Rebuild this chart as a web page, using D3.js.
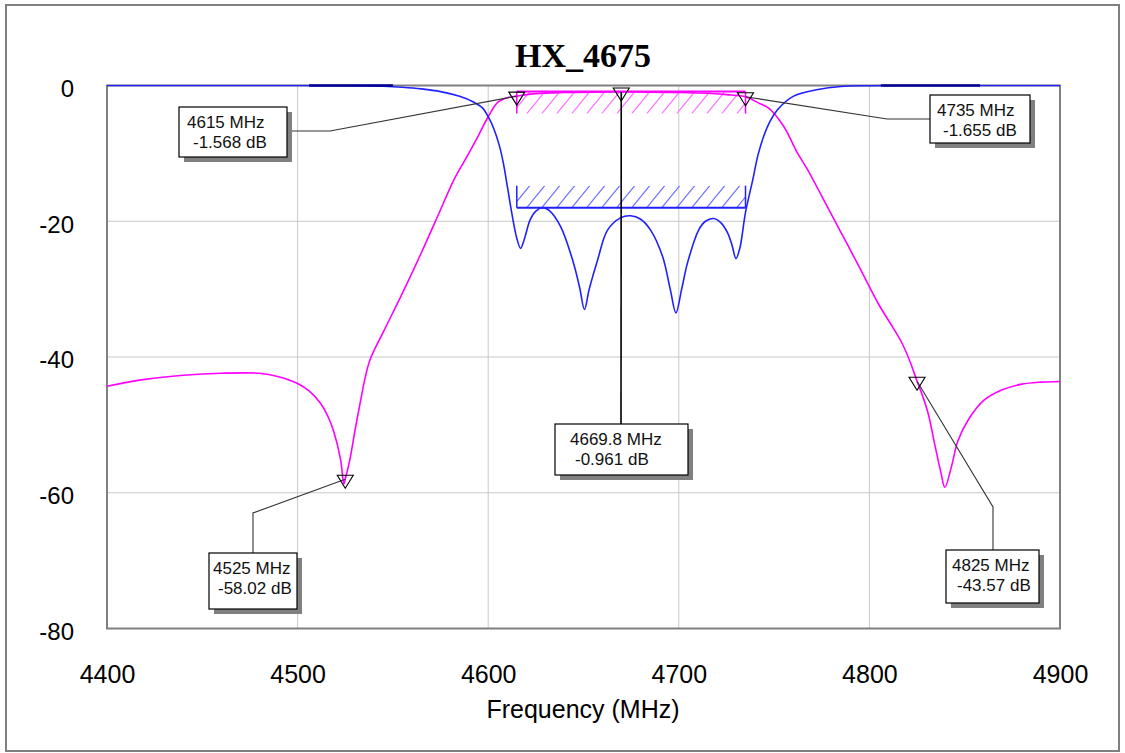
<!DOCTYPE html>
<html>
<head>
<meta charset="utf-8">
<script src="https://cdn.jsdelivr.net/npm/d3@7"></script>
<style>
  html, body { margin: 0; padding: 0; background: #fff; }
  svg { display: block; }
  text { font-family: "Liberation Sans", Arial, sans-serif; }
</style>
</head>
<body>
<div id="chart"></div>
<script>
// ---------------- data ----------------
const chartTitle = "HX_4675";
const xAxisTitle = "Frequency (MHz)";
const xTickValues = [4400, 4500, 4600, 4700, 4800, 4900];
const yTickValues = [0, -20, -40, -60, -80];

// S21 (insertion loss, magenta)
const s21Freq = [4400,4420,4440,4460,4480,4490,4500,4506,4512,4516,4519,4522.5,4524.3,4525,4527.5,4530,4533,4535.5,4538,4545,4555,4565,4575,4582,4589,4595,4600,4605,4610,4615,4625,4640,4655,4669.8,4685,4700,4715,4725,4735,4738,4742,4747,4755,4762,4768,4775,4785,4795,4805,4812,4817,4821.5,4825,4828,4831,4834,4837.5,4839.6,4843,4846.5,4852,4860,4870,4880,4890,4900];
const s21Db   = [-44.3,-43.3,-42.7,-42.4,-42.4,-42.9,-43.9,-45.0,-46.8,-48.8,-51.0,-55.0,-58.7,-58.02,-55.0,-51.0,-46.5,-43.0,-40.4,-36.3,-30.6,-24.6,-18.3,-13.9,-10.4,-7.3,-4.6,-2.5,-1.8,-1.568,-1.2,-1.03,-0.97,-0.961,-0.98,-1.03,-1.15,-1.35,-1.655,-2.0,-2.6,-3.3,-6.0,-9.8,-12.6,-16.3,-21.6,-26.9,-32.3,-35.5,-37.9,-40.8,-43.57,-45.8,-48.5,-52.5,-57.0,-59.2,-56.2,-52.3,-49.2,-46.4,-44.8,-44.0,-43.7,-43.6];

// S11 (return loss, blue)
const s11Freq = [4400,4500,4530,4545,4555,4565,4575,4585,4592,4597,4600,4603,4606,4608,4610,4612.5,4615,4617,4619,4622,4625,4628.5,4632,4638,4644.7,4648,4650.5,4653,4657.4,4662.6,4669.4,4674.7,4680,4685.2,4691.5,4695.5,4698.5,4701.5,4704.6,4710.4,4714,4718.3,4722,4725.6,4728,4730,4732,4735,4738.8,4741.5,4744.5,4748,4752,4760,4773,4785,4800,4815,4900];
const s11Db   = [0,0,-0.03,-0.1,-0.25,-0.5,-0.9,-1.6,-2.4,-3.3,-4.6,-6.4,-9.0,-11.5,-14.8,-19.0,-22.5,-24.0,-22.6,-19.8,-18.5,-18.0,-18.4,-20.8,-26.1,-29.8,-33.0,-30.0,-25.7,-21.3,-19.5,-19.2,-19.7,-21.3,-25.2,-30.0,-33.5,-30.0,-26.1,-21.3,-20.0,-19.6,-20.2,-21.7,-23.6,-25.5,-24.0,-18.7,-13.9,-10.3,-7.5,-5.2,-3.5,-1.6,-0.6,-0.15,-0.03,0,0];

// goals (passband spec)
const goalFreq = [4615, 4735];
const goalS21Db = -0.9;
const goalS11Db = -18;
// rejection goal segments (drawn at the top edge)
const rejectStart = [4506, 4806];
const rejectEnd   = [4550, 4858];
const rejectDb = 0;

// markers
const markerFreq = [4615, 4669.8, 4735, 4525, 4825];
const markerDb   = [-1.568, -0.961, -1.655, -58.02, -43.57];
const markerLine1 = ["4615 MHz", "4669.8 MHz", "4735 MHz", "4525 MHz", "4825 MHz"];
const markerLine2 = ["-1.568 dB", "-0.961 dB", "-1.655 dB", "-58.02 dB", "-43.57 dB"];

// ---------------- layout (pixels, not data) ----------------
const W = 1125, H = 753;
const plotL = 107, plotR = 1060, plotT = 85.5, plotB = 628.5;
const boxLayout = [
  {x:179, y:107, w:108, h:50, dx1:8, dx2:14, elbow:[[287,131],[330,131]]},
  {x:555, y:424, w:133, h:51, dx1:15, dx2:20, elbow:[[621,424]]},
  {x:930, y:95,  w:100, h:48, dx1:7, dx2:13, elbow:[[930,119],[887,119]]},
  {x:209, y:553, w:88,  h:56, dx1:4, dx2:9, elbow:[[253,553],[253,513]]},
  {x:946, y:550, w:93,  h:53, dx1:6, dx2:11, elbow:[[993,550],[993,507]]}
];

const MAG = "#ff00ff", BLUE = "#2020ff";

const svg = d3.select("#chart").append("svg").attr("width", W).attr("height", H);

// outer frame
svg.append("rect").attr("x", 6).attr("y", 5).attr("width", 1113).attr("height", 746)
  .attr("fill", "#fff").attr("stroke", "#808080").attr("stroke-width", 2);

const x = d3.scaleLinear().domain([4400, 4900]).range([plotL, plotR]);
const y = d3.scaleLinear().domain([-80, 0]).range([plotB, plotT]);

// title
svg.append("text").attr("x", 583).attr("y", 67).attr("text-anchor", "middle")
  .style("font-family", "'Liberation Serif', 'Times New Roman', serif")
  .style("font-weight", "bold").style("font-size", "34px").text(chartTitle);

// gridlines
const grid = svg.append("g");
grid.selectAll("line.vx").data(xTickValues.slice(1, -1)).enter().append("line")
  .attr("x1", d => x(d)).attr("x2", d => x(d)).attr("y1", plotT).attr("y2", plotB)
  .attr("stroke", "#c8c8c8").attr("stroke-width", 1);
grid.selectAll("line.hy").data(yTickValues.slice(1, -1)).enter().append("line")
  .attr("x1", plotL).attr("x2", plotR).attr("y1", d => y(d)).attr("y2", d => y(d))
  .attr("stroke", "#c8c8c8").attr("stroke-width", 1);

// plot border
svg.append("rect").attr("x", plotL).attr("y", plotT).attr("width", plotR - plotL).attr("height", plotB - plotT)
  .attr("fill", "none").attr("stroke", "#808080").attr("stroke-width", 2);

// axes
const yAxis = d3.axisLeft(y).tickValues(yTickValues).tickSize(0).tickPadding(33).tickFormat(d => String(d));
const gy = svg.append("g").attr("transform", `translate(${plotL},0)`).call(yAxis);
gy.select(".domain").remove();
gy.selectAll("text").style("font-size", "24px").style("font-family", "'Liberation Sans', Arial, sans-serif")
  .attr("fill", "#000").attr("dy", "0.45em");

const xAxis = d3.axisBottom(x).tickValues(xTickValues).tickSize(0).tickPadding(37).tickFormat(d => String(d));
const gx = svg.append("g").attr("transform", `translate(0,${plotB})`).call(xAxis);
gx.select(".domain").remove();
gx.selectAll("text").style("font-size", "25px").style("font-family", "'Liberation Sans', Arial, sans-serif")
  .attr("fill", "#000");

svg.append("text").attr("x", 583).attr("y", 718).attr("text-anchor", "middle")
  .style("font-size", "25px").attr("fill", "#000").text(xAxisTitle);

// clip
const defs = svg.append("defs");
defs.append("clipPath").attr("id", "plotclip").append("rect")
  .attr("x", plotL - 1).attr("y", plotT - 1).attr("width", plotR - plotL + 2).attr("height", plotB - plotT + 2);

// goals with hatching
function hatchGoal(id, f0, f1, db, dir, solid, light) {
  const x0 = x(f0), x1 = x(f1), yl = y(db);
  const hh = 22;
  const yTop = dir < 0 ? yl : yl - hh;
  const yBot = yTop + hh;
  defs.append("clipPath").attr("id", id).append("rect")
    .attr("x", x0).attr("y", yTop).attr("width", x1 - x0).attr("height", hh);
  const g = svg.append("g");
  const hg = g.append("g").attr("clip-path", `url(#${id})`);
  const starts = d3.range(x0 - 20, x1 + 5, 15);
  hg.selectAll("line").data(starts).enter().append("line")
    .attr("x1", d => d).attr("y1", yBot).attr("x2", d => d + 18).attr("y2", yTop)
    .attr("stroke", light).attr("stroke-width", 1.2);
  g.append("line").attr("x1", x0).attr("x2", x1).attr("y1", yl).attr("y2", yl)
    .attr("stroke", solid).attr("stroke-width", 2);
  g.append("line").attr("x1", x0).attr("x2", x0).attr("y1", yTop).attr("y2", yBot)
    .attr("stroke", solid).attr("stroke-width", 1.5);
  g.append("line").attr("x1", x1).attr("x2", x1).attr("y1", yTop).attr("y2", yBot)
    .attr("stroke", solid).attr("stroke-width", 1.5);
}
hatchGoal("hatchS11", goalFreq[0], goalFreq[1], goalS11Db, 1, BLUE, "#7070ff");
hatchGoal("hatchS21", goalFreq[0], goalFreq[1], goalS21Db, -1, MAG, "#ff70ff");

// curves
const line = d3.line().x(d => x(d[0])).y(d => y(d[1])).curve(d3.curveCatmullRom.alpha(0.5));
const curves = svg.append("g").attr("clip-path", "url(#plotclip)");
curves.append("path").datum(s21Freq.map((f, i) => [f, s21Db[i]]))
  .attr("d", line).attr("fill", "none").attr("stroke", MAG).attr("stroke-width", 1.6);
curves.append("path").datum(s11Freq.map((f, i) => [f, s11Db[i]]))
  .attr("d", line).attr("fill", "none").attr("stroke", BLUE).attr("stroke-width", 1.6);

// rejection goal segments at top
svg.selectAll("line.rej").data(rejectStart).enter().append("line")
  .attr("x1", d => x(d)).attr("x2", (d, i) => x(rejectEnd[i]))
  .attr("y1", y(rejectDb)).attr("y2", y(rejectDb))
  .attr("stroke", "#000090").attr("stroke-width", 2.5);

// markers: leaders, triangles, boxes
const mk = svg.append("g");
markerFreq.forEach((f, i) => {
  const px = x(f), py = y(markerDb[i]);
  const b = boxLayout[i];
  const pts = b.elbow.concat([[px, py]]);
  mk.append("path").attr("d", d3.line()(pts)).attr("fill", "none")
    .attr("stroke", i === 1 ? "#000" : "#333").attr("stroke-width", i === 1 ? 1.6 : 1.1);
});
markerFreq.forEach((f, i) => {
  const px = x(f), py = y(markerDb[i]);
  mk.append("path")
    .attr("d", `M${px - 8},${py - 4}L${px + 8},${py - 4}L${px},${py + 9}Z`)
    .attr("fill", "none").attr("stroke", "#000").attr("stroke-width", 1.1);
});
boxLayout.forEach((b, i) => {
  mk.append("rect").attr("x", b.x + 5).attr("y", b.y + 5).attr("width", b.w).attr("height", b.h)
    .attr("fill", "#808080");
  mk.append("rect").attr("x", b.x).attr("y", b.y).attr("width", b.w).attr("height", b.h)
    .attr("fill", "#fff").attr("stroke", "#000").attr("stroke-width", 1.2);
  mk.append("text").attr("x", b.x + b.dx1).attr("y", b.y + 21)
    .style("font-size", "17px").attr("fill", "#111").text(markerLine1[i]);
  mk.append("text").attr("x", b.x + b.dx2).attr("y", b.y + 41)
    .style("font-size", "17px").attr("fill", "#111").text(markerLine2[i]);
});
</script>
</body>
</html>
